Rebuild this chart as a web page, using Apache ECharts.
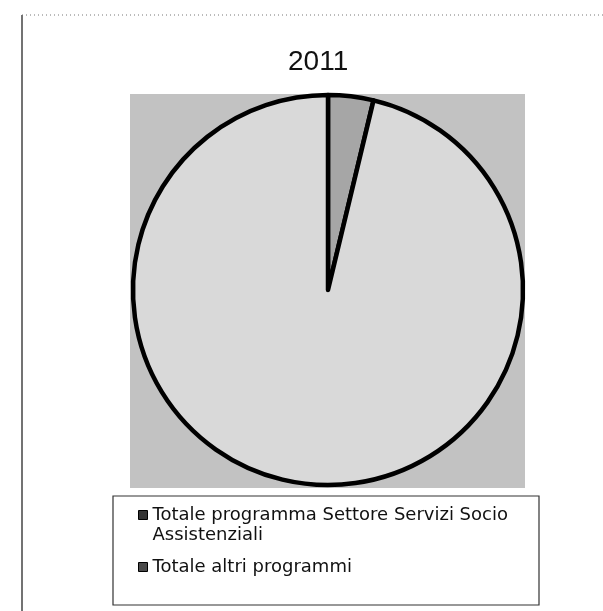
<!DOCTYPE html>
<html>
<head>
<meta charset="utf-8">
<title>2011</title>
<script src="https://cdn.jsdelivr.net/npm/echarts@6.0.0/dist/echarts.min.js"></script>
<style>
    html, body { margin: 0; padding: 0; background: #fff; }
    #chart { width: 603px; height: 611px; }
</style>
</head>
<body>
<div id="chart"></div>
<script>
// dati (quota percentuale sul totale)
var titleText = '2011';
var categories = ['Totale programma Settore Servizi Socio Assistenziali', 'Totale altri programmi'];
var values = [3.75, 96.25];
var sliceColors = ['#a6a6a6', '#d9d9d9'];
var markerColors = ['#333333', '#4a4a4a'];

var lineH = 20; // interlinea legenda

var chart = echarts.init(document.getElementById('chart'));

function legendItem(i, top) {
    return {
        orient: 'vertical',
        left: 138,
        top: top,
        padding: 0,
        itemWidth: 9,
        itemHeight: 9,
        selectedMode: false,
        formatter: function (name) {
            // riga vuota in testa: cosi' il quadratino resta sulla prima riga
            return name === categories[0] ? '\nTotale programma Settore Servizi Socio\nAssistenziali' : name;
        },
        textStyle: {
            fontFamily: 'DejaVu Sans',
            fontSize: 18,
            lineHeight: lineH,
            color: '#111'
        },
        data: [{
            name: categories[i],
            icon: 'rect',
            itemStyle: { color: markerColors[i], borderColor: '#000', borderWidth: 1 }
        }]
    };
}

var option = {
    backgroundColor: '#ffffff',
    animation: false,
    title: {
        text: titleText,
        left: 288,
        top: 48,
        padding: 0,
        textStyle: {
            fontFamily: 'Liberation Sans',
            fontSize: 28,
            fontWeight: 'normal',
            color: '#111'
        }
    },
    legend: [
        legendItem(0, 485),
        legendItem(1, 557)
    ],
    graphic: [
        // cornice della pagina
        { type: 'line', silent: true, shape: { x1: 22, y1: 15, x2: 22, y2: 611 }, style: { stroke: '#444', lineWidth: 1.5 } },
        { type: 'line', silent: true, shape: { x1: 22, y1: 15, x2: 603, y2: 15 }, style: { stroke: '#777', lineWidth: 1, lineDash: [1, 3] } },
        // area del grafico
        { type: 'rect', silent: true, z: -10, shape: { x: 130, y: 94, width: 395, height: 394 }, style: { fill: '#c2c2c2' } },
        // riquadro legenda
        { type: 'rect', silent: true, shape: { x: 113, y: 496, width: 426, height: 109 }, style: { fill: 'none', stroke: '#333', lineWidth: 1.2 } }
    ],
    series: [{
        type: 'pie',
        center: [328, 290],
        radius: 195,
        startAngle: 90,
        clockwise: true,
        label: { show: false },
        labelLine: { show: false },
        emphasis: { disabled: true },
        itemStyle: { borderColor: '#000', borderWidth: 4.5 },
        data: categories.map(function (c, i) {
            return { name: c, value: values[i], itemStyle: { color: sliceColors[i] } };
        })
    }]
};

chart.setOption(option);
</script>
</body>
</html>
